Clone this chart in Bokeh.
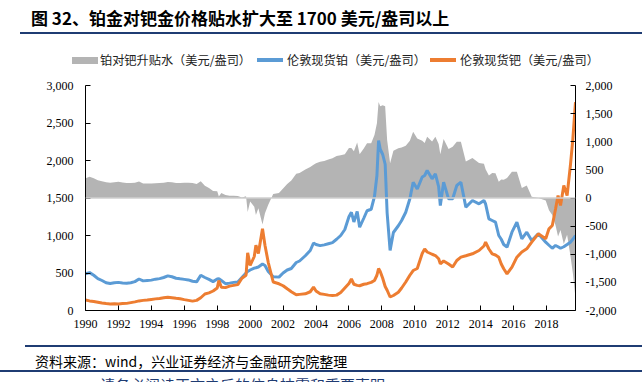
from bokeh.plotting import figure
from bokeh.layouts import column
from bokeh.models import (Range1d, LinearAxis, FixedTicker, NumeralTickFormatter,
                          ColumnDataSource, Span, Div)
from bokeh.embed import file_html
from bokeh.resources import INLINE

# ---------------- data ----------------
dates = [1990.00, 1990.25, 1990.50, 1990.75, 1991.00, 1991.25, 1991.50, 1991.75,
         1992.00, 1992.25, 1992.50, 1992.75, 1993.00, 1993.25, 1993.50, 1993.75,
         1994.00, 1994.25, 1994.50, 1994.75, 1995.00, 1995.25, 1995.50, 1995.75,
         1996.00, 1996.25, 1996.50, 1996.75, 1997.00, 1997.25, 1997.50, 1997.75,
         1998.00, 1998.10, 1998.25, 1998.50, 1998.75, 1999.00, 1999.25, 1999.50,
         1999.75, 1999.85, 2000.00, 2000.25, 2000.35, 2000.50, 2000.75, 2000.90,
         2001.10, 2001.40, 2001.75, 2002.00, 2002.25, 2002.50, 2002.80, 2003.00,
         2003.35, 2003.65, 2003.85, 2004.00, 2004.25, 2004.50, 2004.75, 2005.00,
         2005.25, 2005.50, 2005.75, 2006.00, 2006.15, 2006.30, 2006.50, 2006.65,
         2006.90, 2007.10, 2007.35, 2007.55, 2007.70, 2007.80, 2007.90, 2008.05,
         2008.20, 2008.32, 2008.50, 2008.70, 2009.00, 2009.20, 2009.45, 2009.70,
         2009.90, 2010.15, 2010.45, 2010.60, 2010.75, 2011.05, 2011.25, 2011.45,
         2011.55, 2011.75, 2012.05, 2012.30, 2012.55, 2012.80, 2013.10, 2013.50,
         2013.90, 2014.20, 2014.30, 2014.50, 2014.70, 2014.90, 2015.10, 2015.25,
         2015.40, 2015.60, 2015.90, 2016.20, 2016.50, 2016.80, 2017.10, 2017.50,
         2017.95, 2018.15, 2018.35, 2018.55, 2018.70, 2018.85, 2019.05, 2019.25,
         2019.45, 2019.60, 2019.76]

platinum = [490, 505, 470, 425, 400, 370, 360, 370,
            375, 368, 362, 370, 385, 420, 395, 400,
            405, 418, 425, 440, 462, 450, 430, 422,
            415, 408, 390, 382, 470, 440, 415, 385,
            420, 425, 400, 358, 365, 375, 380, 440,
            500, 520, 540, 565, 570, 580, 620, 600,
            520, 450, 445, 500, 540, 560, 640, 660,
            730, 800, 900, 880, 865, 875, 890, 905,
            950, 1000, 1080, 1250, 1310, 1180, 1320, 1110,
            1230, 1330, 1350, 1520, 1800, 2267, 2150, 2080,
            1950, 1300, 800, 1040, 1130, 1200, 1310, 1490,
            1710, 1620, 1780, 1800, 1867, 1756, 1822, 1650,
            1400, 1711, 1489, 1490, 1667, 1711, 1378, 1467,
            1422, 1467, 1420, 1222, 1200, 1178, 1000, 950,
            880, 844, 1044, 1178, 956, 1044, 933, 1022,
            911, 870, 830, 867, 850, 830, 850, 880,
            911, 950, 1000]

palladium = [140, 128, 120, 110, 100, 92, 88, 90,
             88, 92, 95, 105, 115, 128, 135, 140,
             148, 155, 160, 170, 178, 170, 162, 156,
             145, 135, 125, 135, 170, 220, 235, 260,
             300, 400, 310, 305, 325, 335, 345, 430,
             470, 770, 600, 720, 870, 760, 1089, 870,
             640, 380, 356, 330, 289, 250, 209, 215,
             222, 250, 311, 260, 222, 215, 205, 200,
             205, 240, 300, 360, 420, 350, 335, 330,
             350, 358, 375, 400, 470, 560, 520, 430,
             320, 270, 180, 200, 244, 300, 380, 470,
             533, 560, 760, 822, 780, 750, 733, 690,
             622, 660, 620, 580, 667, 711, 730, 756,
             800, 860, 911, 820, 756, 740, 711, 620,
             556, 489, 578, 711, 780, 822, 911, 1022,
             956, 1089, 1133, 1356, 1533, 1400, 1667, 1533,
             1933, 2289, 2778]

premium = [a - b for a, b in zip(platinum, palladium)]

year_ticks = list(range(1990, 2019, 2))
left_ticks = [0, 500, 1000, 1500, 2000, 2500, 3000]
right_ticks = [-2000, -1500, -1000, -500, 0, 500, 1000, 1500, 2000]

title_text = "图 32、铂金对钯金价格贴水扩大至 1700 美元/盎司以上"
series_names = ["铂对钯升贴水（美元/盎司）", "伦敦现货铂（美元/盎司）", "伦敦现货钯（美元/盎司）"]
source_text = "资料来源：wind，兴业证券经济与金融研究院整理"
notice_text = "请务必阅读正文之后的信息披露和重要声明"

# ---------------- styling ----------------
GRAY = "#B4B4B4"
BLUE = "#5B9BD5"
ORANGE = "#ED7D31"
NAVY = "#1F3C73"
CJK = "Noto Sans CJK SC"
SERIF = "Liberation Serif"
W = 642


def abs_text(left, top, text, size, lh, color="#000", bold=False):
    weight = "bold" if bold else "normal"
    return (f'<div style="position:absolute;left:{left}px;top:{top}px;white-space:nowrap;'
            f"font-family:'{CJK}';font-weight:{weight};font-size:{size}px;"
            f'line-height:{lh}px;color:{color};">{text}</div>')


def abs_box(left, top, width, height, color):
    w = f"width:{width}px;" if width is not None else "right:0;"
    return (f'<div style="position:absolute;left:{left}px;top:{top}px;{w}'
            f'height:{height}px;background:{color};"></div>')


# ---- header: title, rule, legend ----
TOP_H = 73
legend_specs = [(72, 100, 7, GRAY), (257, 287, 3.5, BLUE), (430, 460, 3.5, ORANGE)]
header_parts = [abs_text(31, 6, title_text, 17, 24, bold=True), abs_box(20, 32, None, 2, NAVY)]
for (sw_x, tx_x, sw_h, col), name in zip(legend_specs, series_names):
    header_parts.append(abs_box(sw_x, 60 - sw_h / 2, 26, sw_h, col))
    header_parts.append(abs_text(tx_x, 51, name, 12.2, 18, color="#222"))
header = Div(text=(f'<div style="position:relative;width:{W}px;height:{TOP_H}px;overflow:hidden;">'
                   + "".join(header_parts) + '</div>'),
             width=W, height=TOP_H, margin=0)

# ---- main chart ----
p = figure(width=W, height=259, x_range=Range1d(1990, 2019.76), y_range=Range1d(0, 3000),
           output_backend="svg", toolbar_location=None,
           min_border_left=85, min_border_right=67, min_border_top=12, min_border_bottom=22)
p.outline_line_color = None
p.grid.visible = False
p.extra_y_ranges = {"prem": Range1d(-2000, 2000)}

src = ColumnDataSource(dict(date=dates, pt=platinum, pd=palladium, prem=premium,
                            zero=[0] * len(dates)))

p.varea(x="date", y1="zero", y2="prem", source=src, fill_color=GRAY, y_range_name="prem")
p.add_layout(Span(location=0, dimension="width", y_range_name="prem",
                  line_color="#CFCFCF", line_width=1.5))
p.line("date", "pt", source=src, line_color=BLUE, line_width=3)
p.line("date", "pd", source=src, line_color=ORANGE, line_width=3)


def style_axis(ax, standoff):
    ax.axis_line_color = "black"
    ax.axis_line_width = 1
    ax.major_tick_in = 5
    ax.major_tick_out = 0
    ax.minor_tick_line_color = None
    ax.major_tick_line_color = "black"
    ax.major_label_text_font = SERIF
    ax.major_label_text_font_size = "12px"
    ax.major_label_text_color = "black"
    ax.major_label_standoff = standoff


p.xaxis.ticker = FixedTicker(ticks=year_ticks)
style_axis(p.xaxis[0], 9)
p.yaxis.ticker = FixedTicker(ticks=left_ticks)
p.yaxis.formatter = NumeralTickFormatter(format="0,0")
style_axis(p.yaxis[0], 12)

right_axis = LinearAxis(y_range_name="prem", ticker=FixedTicker(ticks=right_ticks),
                        formatter=NumeralTickFormatter(format="0,0"))
style_axis(right_axis, 10)
p.add_layout(right_axis, "right")

# ---- footer: source, rules, notice ----
BOT_H = 50
footer_parts = [abs_box(25, 13, None, 1.5, NAVY),
                abs_text(35, 18, source_text, 14, 22),
                abs_box(0, 38, None, 2, NAVY),
                abs_text(100, 43, notice_text, 15, 20, color=NAVY)]
footer = Div(text=(f'<div style="position:relative;width:{W}px;height:{BOT_H}px;overflow:hidden;">'
                   + "".join(footer_parts) + '</div>'),
             width=W, height=BOT_H, margin=0)

layout = column(header, p, footer, spacing=0)
open("out.html", "w").write(file_html(layout, INLINE))
